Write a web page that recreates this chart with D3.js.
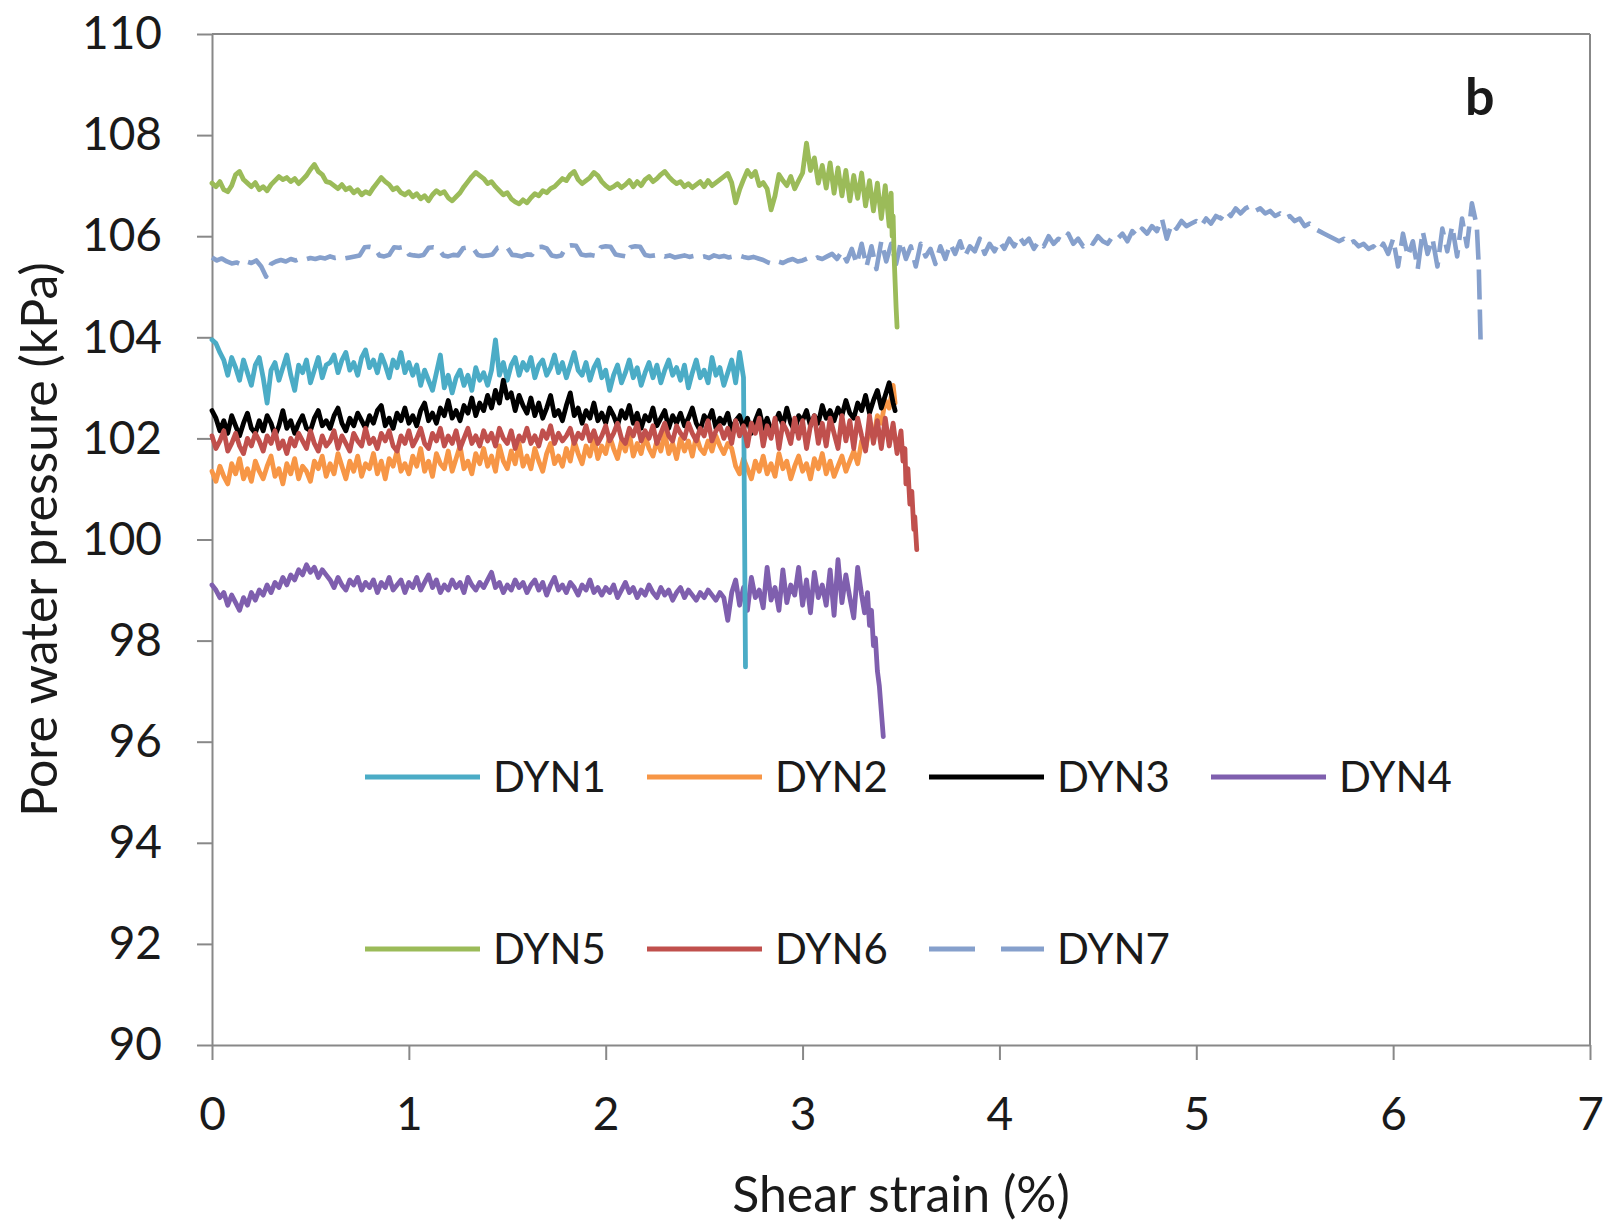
<!DOCTYPE html>
<html>
<head>
<meta charset="utf-8">
<script src="https://cdn.jsdelivr.net/npm/d3@7"></script>
<style>
  html, body { margin: 0; padding: 0; background: #ffffff; }
  svg { display: block; }
  text { font-family: Lato, "Open Sans", "DejaVu Sans", sans-serif; fill: #1a1a1a; }
</style>
</head>
<body>
<svg id="chart" width="1611" height="1223"></svg>
<script>
// Pore water pressure (kPa) against shear strain (%) for seven dynamic tests.
// Each pressure list is sampled at a fixed strain interval (seriesSteps, in %),
// starting at 0; the *End lists hold the last [strain, pressure] readings.

const seriesNames = ["DYN1", "DYN2", "DYN3", "DYN4", "DYN5", "DYN6", "DYN7"];
const seriesColors = ["#4BACC6", "#F79646", "#000000", "#7F5FAE", "#9BBB59", "#C0504D", "#86A0CC"];
const seriesSteps = [0.02, 0.02, 0.02, 0.02, 0.02, 0.02, 0.025];
const xTicks = [0, 1, 2, 3, 4, 5, 6, 7];
const yTicks = [90, 92, 94, 96, 98, 100, 102, 104, 106, 108, 110];

const dyn1Pressure = [
  103.95, 103.88, 103.70, 103.55, 103.25, 103.60, 103.40, 103.15, 103.55, 103.30,
  103.05, 103.45, 103.60, 103.20, 102.70, 103.35, 103.50, 103.15, 103.40, 103.65,
  103.25, 102.95, 103.45, 103.30, 103.55, 103.10, 103.35, 103.60, 103.20, 103.45,
  103.50, 103.65, 103.30, 103.55, 103.70, 103.35, 103.50, 103.25, 103.60, 103.75,
  103.40, 103.55, 103.30, 103.65, 103.45, 103.20, 103.55, 103.40, 103.70, 103.30,
  103.50, 103.25, 103.45, 103.05, 103.35, 103.15, 102.95, 103.30, 103.65, 103.00,
  103.25, 102.90, 103.20, 103.35, 103.05, 103.25, 102.95, 103.40, 103.15, 103.30,
  103.05, 103.35, 103.95, 103.25, 103.50, 103.15, 103.45, 103.60, 103.25, 103.50,
  103.35, 103.60, 103.20, 103.45, 103.55, 103.25, 103.40, 103.65, 103.30, 103.50,
  103.20, 103.45, 103.70, 103.35, 103.25, 103.50, 103.15, 103.40, 103.55, 103.20,
  103.35, 102.95, 103.25, 103.45, 103.10, 103.30, 103.55, 103.20, 103.40, 103.05,
  103.30, 103.50, 103.20, 103.45, 103.10, 103.35, 103.55, 103.25, 103.40, 103.15,
  103.45, 103.00, 103.30, 103.55, 103.20, 103.35, 103.10, 103.60, 103.25, 103.40,
  103.05, 103.30, 103.55, 103.10, 103.70, 103.20
];
const dyn1End = [[2.71, 97.48]];

const dyn2Pressure = [
  101.35, 101.15, 101.45, 101.25, 101.10, 101.50, 101.30, 101.60, 101.20, 101.40,
  101.15, 101.55, 101.35, 101.20, 101.45, 101.65, 101.25, 101.40, 101.10, 101.50,
  101.30, 101.60, 101.20, 101.45, 101.35, 101.15, 101.55, 101.40, 101.65, 101.25,
  101.50, 101.30, 101.70, 101.45, 101.20, 101.55, 101.35, 101.65, 101.25, 101.50,
  101.40, 101.70, 101.30, 101.55, 101.20, 101.60, 101.45, 101.75, 101.35, 101.50,
  101.30, 101.65, 101.45, 101.80, 101.35, 101.55, 101.25, 101.70, 101.50, 101.40,
  101.75, 101.35, 101.60, 101.85, 101.40, 101.55, 101.30, 101.70, 101.50, 101.80,
  101.45, 101.65, 101.35, 101.85, 101.55, 101.40, 101.75, 101.50, 101.90, 101.45,
  101.65, 101.40, 101.80, 101.55, 101.35, 101.70, 101.90, 101.50, 101.65, 101.45,
  101.80, 101.55, 101.95, 101.70, 101.50, 101.85, 101.65, 102.00, 101.60, 101.85,
  101.70, 102.05, 101.80, 101.60, 101.95, 101.75, 102.10, 101.65, 101.90, 101.70,
  102.05, 101.80, 101.65, 101.95, 101.75, 102.10, 101.70, 101.90, 101.60, 102.00,
  101.75, 101.95, 101.65, 102.05, 101.80, 101.70, 101.95, 101.75, 102.05, 101.85,
  101.70, 101.90, 101.80, 101.45, 101.30, 101.60, 101.40, 101.20, 101.55, 101.35,
  101.65, 101.30, 101.50, 101.25, 101.70, 101.40, 101.55, 101.20, 101.45, 101.65,
  101.35, 101.50, 101.20, 101.60, 101.40, 101.70, 101.30, 101.55, 101.25, 101.45,
  101.65, 101.35, 101.55, 101.75, 101.50, 101.95, 101.80, 102.20, 102.00, 102.45,
  102.30, 102.75, 102.60, 103.05
];
const dyn2End = [[3.47, 102.70]];

const dyn3Pressure = [
  102.55, 102.40, 102.15, 102.35, 102.10, 102.45, 102.25, 102.05, 102.30, 102.50,
  102.20, 102.10, 102.35, 102.15, 102.45, 102.30, 102.05, 102.25, 102.55, 102.20,
  102.35, 102.10, 102.30, 102.45, 102.20, 102.15, 102.40, 102.55, 102.25, 102.35,
  102.20, 102.45, 102.60, 102.30, 102.15, 102.40, 102.25, 102.50, 102.35, 102.20,
  102.45, 102.30, 102.55, 102.65, 102.25, 102.40, 102.20, 102.50, 102.35, 102.60,
  102.30, 102.45, 102.25, 102.55, 102.70, 102.35, 102.50, 102.30, 102.60, 102.45,
  102.75, 102.40, 102.55, 102.35, 102.65, 102.50, 102.80, 102.45, 102.70, 102.55,
  102.85, 102.60, 102.95, 102.70, 103.15, 102.80, 102.90, 102.55, 102.85, 102.65,
  102.50, 102.80, 102.45, 102.70, 102.40, 102.60, 102.85, 102.45, 102.55, 102.35,
  102.65, 102.90, 102.45, 102.60, 102.30, 102.55, 102.40, 102.70, 102.35, 102.50,
  102.30, 102.60, 102.45, 102.25, 102.55, 102.40, 102.65, 102.30, 102.50, 102.20,
  102.45, 102.35, 102.60, 102.25, 102.40, 102.55, 102.20, 102.45, 102.30, 102.50,
  102.25, 102.40, 102.60, 102.30, 102.15, 102.45, 102.35, 102.55, 102.20, 102.40,
  102.30, 102.50, 102.15, 102.35, 102.45, 102.20, 102.40, 102.10, 102.35, 102.55,
  102.20, 102.40, 102.15, 102.30, 102.50, 102.25, 102.60, 102.30, 102.15, 102.45,
  102.35, 102.55, 102.25, 102.45, 102.30, 102.65, 102.40, 102.55, 102.35, 102.60,
  102.45, 102.75, 102.50, 102.40, 102.70, 102.55, 102.85, 102.50, 102.75, 102.95,
  102.60, 102.85, 103.10, 102.70
];
const dyn3End = [[3.47, 102.55]];

const dyn4Pressure = [
  99.10, 99.00, 98.85, 98.95, 98.70, 98.90, 98.75, 98.60, 98.85, 98.70,
  98.95, 98.80, 99.00, 98.90, 99.10, 98.95, 99.15, 99.05, 99.25, 99.10,
  99.30, 99.20, 99.40, 99.30, 99.50, 99.35, 99.45, 99.25, 99.40, 99.30,
  99.20, 99.05, 99.25, 99.10, 99.00, 99.20, 99.10, 99.25, 99.00, 99.15,
  99.05, 99.20, 98.95, 99.15, 99.05, 99.25, 99.00, 99.10, 99.20, 98.95,
  99.15, 99.05, 99.25, 99.00, 99.15, 99.30, 99.05, 99.20, 98.95, 99.10,
  99.00, 99.20, 99.05, 99.15, 98.95, 99.25, 99.10, 99.00, 99.15, 99.05,
  99.20, 99.35, 99.05, 99.15, 98.95, 99.10, 99.00, 99.20, 99.05, 99.15,
  98.95, 99.10, 99.20, 99.00, 99.15, 98.90, 99.10, 99.25, 99.00, 99.10,
  98.95, 99.15, 99.05, 98.90, 99.10, 99.00, 99.20, 98.95, 99.05, 98.90,
  99.05, 98.95, 99.10, 98.85, 99.00, 99.15, 98.95, 99.05, 98.85, 99.00,
  98.90, 99.10, 98.95, 98.85, 99.05, 98.90, 99.00, 98.80, 98.95, 99.05,
  98.85, 99.00, 98.90, 98.80, 98.95, 98.85, 99.00, 98.90, 98.80, 98.95,
  98.85, 98.40, 98.95, 99.20, 98.70, 99.05, 98.60, 99.25, 98.85, 99.00,
  98.65, 99.45, 98.80, 99.05, 98.60, 99.40, 98.75, 99.10, 98.90, 99.45,
  98.70, 99.20, 98.55, 99.35, 98.85, 99.10, 98.70, 99.40, 98.50, 99.60,
  98.75, 99.30, 98.85, 98.45, 99.45, 98.90
];
const dyn4End = [
  [3.315, 98.55], [3.33, 98.95], [3.34, 98.30], [3.35, 98.60], [3.36, 97.90],
  [3.37, 98.05], [3.38, 97.40], [3.39, 97.10], [3.40, 96.60], [3.41, 96.10]
];

const dyn5Pressure = [
  107.05, 106.98, 107.08, 106.92, 106.88, 107.00, 107.22, 107.28, 107.12, 107.05,
  106.98, 107.06, 106.92, 106.98, 106.90, 107.02, 107.10, 107.18, 107.12, 107.16,
  107.08, 107.14, 107.04, 107.12, 107.20, 107.32, 107.42, 107.28, 107.22, 107.08,
  107.06, 107.00, 106.94, 107.02, 106.92, 106.96, 106.86, 106.92, 106.82, 106.88,
  106.84, 106.96, 107.06, 107.16, 107.08, 107.02, 106.92, 106.96, 106.86, 106.82,
  106.88, 106.78, 106.84, 106.74, 106.80, 106.70, 106.82, 106.90, 106.84, 106.88,
  106.76, 106.70, 106.78, 106.86, 106.98, 107.08, 107.18, 107.26, 107.20, 107.14,
  107.04, 107.08, 106.98, 106.90, 106.82, 106.86, 106.74, 106.68, 106.64, 106.72,
  106.66, 106.76, 106.84, 106.80, 106.90, 106.86, 106.94, 106.98, 107.06, 107.14,
  107.10, 107.22, 107.28, 107.12, 107.04, 107.10, 107.16, 107.26, 107.20, 107.08,
  107.00, 106.94, 106.98, 107.04, 106.96, 107.02, 107.10, 106.98, 107.08, 107.00,
  107.12, 107.18, 107.08, 107.14, 107.22, 107.28, 107.18, 107.10, 107.04, 107.08,
  106.98, 107.04, 106.96, 107.02, 107.08, 106.98, 107.10, 107.00, 107.06, 107.12,
  107.18, 107.24, 107.06, 106.66, 106.92, 107.12, 107.30, 107.18, 107.28, 107.00,
  107.06, 106.94, 106.52, 106.80, 107.22, 107.10, 107.00, 107.18, 106.94, 107.10,
  107.25, 107.84, 107.30, 107.55, 107.05, 107.40, 106.95, 107.45, 106.85, 107.35,
  106.80, 107.30, 106.70, 107.20, 106.75, 107.25, 106.60, 107.10, 106.50, 107.05,
  106.35, 107.00, 106.20
];
const dyn5End = [
  [3.45, 106.85], [3.455, 106.00], [3.46, 106.40], [3.465, 105.60],
  [3.47, 105.10], [3.475, 104.60], [3.48, 104.20]
];

const dyn6Pressure = [
  102.05, 101.80, 101.95, 102.15, 101.75, 101.90, 102.10, 101.85, 101.70, 102.00,
  101.85, 102.10, 101.95, 101.75, 102.05, 101.90, 102.15, 101.80, 101.95, 101.70,
  102.00, 101.85, 102.10, 101.95, 101.80, 102.15, 101.90, 101.75, 102.05, 101.85,
  101.95, 102.15, 101.80, 102.05, 101.90, 101.75, 102.10, 101.95, 101.85, 102.20,
  101.90, 102.00, 101.80, 102.10, 101.95, 102.15, 101.85, 101.75, 102.05, 101.90,
  102.15, 101.85, 102.00, 102.20, 101.90, 101.80, 102.10, 101.95, 102.20, 101.85,
  102.05, 101.90, 102.15, 101.80, 102.00, 102.20, 101.90, 102.05, 101.85, 102.15,
  101.95, 102.10, 101.85, 102.20, 102.00, 101.90, 102.15, 101.80, 102.05, 101.95,
  102.20, 101.90, 102.05, 101.85, 102.15, 102.00, 102.25, 101.90, 102.10, 101.95,
  102.05, 102.20, 101.90, 102.10, 102.00, 102.25, 101.95, 102.15, 101.90, 102.05,
  102.25, 101.95, 102.10, 102.30, 102.00, 101.90, 102.20, 102.05, 102.30, 101.95,
  102.15, 102.00, 102.25, 101.90, 102.10, 102.30, 102.05, 101.95, 102.25, 102.10,
  102.00, 102.30, 102.10, 101.95, 102.20, 102.05, 102.35, 101.95, 102.15, 102.25,
  102.00, 102.20, 101.90, 102.35, 102.05, 102.25, 101.85, 102.30, 102.10, 102.40,
  101.85, 102.25, 102.00, 102.40, 101.80, 102.30, 102.15, 101.90, 102.40, 102.00,
  102.35, 101.80, 102.25, 102.45, 101.90, 102.30, 101.85, 102.40, 102.10, 101.80,
  102.45, 101.95, 102.35, 101.80, 102.40, 102.05, 101.75, 102.45, 101.90, 102.35,
  101.80, 102.40, 101.85, 102.30, 101.70, 102.15
];
const dyn6End = [
  [3.51, 101.55], [3.52, 101.80], [3.525, 101.10], [3.535, 101.40], [3.545, 100.70],
  [3.555, 100.95], [3.565, 100.20], [3.57, 100.45], [3.58, 99.80]
];

const dyn7Pressure = [
  105.58, 105.52, 105.56, 105.50, 105.46, 105.48, 105.44, 105.50, 105.47, 105.52,
  105.40, 105.20, 105.45, 105.50, 105.53, 105.50, 105.55, 105.52, 105.56, 105.54,
  105.57, 105.55, 105.58, 105.56, 105.60, 105.57, 105.59, 105.56, 105.58, 105.60,
  105.62, 105.78, 105.79, 105.77, 105.62, 105.60, 105.63, 105.78, 105.77, 105.79,
  105.64, 105.62, 105.61, 105.63, 105.77, 105.78, 105.76, 105.62, 105.60, 105.63,
  105.62, 105.76, 105.78, 105.77, 105.63, 105.61, 105.62, 105.64, 105.77, 105.79,
  105.78, 105.63, 105.62, 105.60, 105.64, 105.63, 105.78, 105.79, 105.76, 105.62,
  105.60, 105.62, 105.80, 105.82, 105.81, 105.64, 105.62, 105.63, 105.61, 105.78,
  105.80, 105.79, 105.64, 105.62, 105.60, 105.78, 105.80, 105.79, 105.63, 105.61,
  105.62, 105.64, 105.60, 105.62, 105.58, 105.60, 105.62, 105.59, 105.61, 105.58,
  105.60, 105.57, 105.62, 105.59, 105.61, 105.58, 105.60, 105.62, 105.59, 105.57,
  105.59, 105.56, 105.53, 105.48, 105.45, 105.50, 105.47, 105.52, 105.55, 105.50,
  105.52, 105.56, 105.53, 105.58, 105.55, 105.60, 105.65, 105.55, 105.70, 105.50,
  105.75, 105.45, 105.85, 105.40, 105.80, 105.35, 105.90, 105.50, 105.85, 105.45,
  105.90, 105.55, 105.80, 105.40, 105.85, 105.60, 105.75, 105.45, 105.80, 105.55,
  105.85, 105.65, 105.90, 105.60, 105.80, 105.70, 105.95, 105.65, 105.85, 105.70,
  105.90, 105.75, 105.95, 105.80, 106.00, 105.85, 105.95, 105.75, 105.90, 105.80,
  106.00, 105.85, 105.95, 105.90, 106.05, 105.85, 105.95, 105.80, 105.90, 105.85,
  106.00, 105.90, 105.85, 106.00, 105.95, 106.05, 105.90, 106.10, 106.00, 106.15,
  106.05, 106.20, 106.10, 106.35, 105.95, 106.25, 106.15, 106.30, 106.20, 106.25,
  106.30, 106.20, 106.35, 106.25, 106.40, 106.35, 106.50, 106.40, 106.55, 106.45,
  106.55, 106.60, 106.50, 106.55, 106.45, 106.50, 106.40, 106.45, 106.35, 106.40,
  106.30, 106.35, 106.20, 106.25, 106.15, 106.10, 106.05, 106.00, 105.95, 105.90,
  105.95, 105.85, 105.90, 105.80, 105.85, 105.75, 105.80, 105.70, 105.85, 105.65,
  105.95, 105.40, 106.05, 105.60, 105.90, 105.35, 106.10, 105.65, 105.95, 105.40,
  106.15, 105.70, 106.20, 105.60, 106.35, 105.80, 106.65, 106.20
];
const dyn7End = [[6.435, 105.40], [6.44, 104.60], [6.445, 103.80]];

const pressureLists = [dyn1Pressure, dyn2Pressure, dyn3Pressure, dyn4Pressure, dyn5Pressure, dyn6Pressure, dyn7Pressure];
const endLists = [dyn1End, dyn2End, dyn3End, dyn4End, dyn5End, dyn6End, dyn7End];

const series = seriesNames.map((name, k) => ({
  name,
  color: seriesColors[k],
  dashed: name === "DYN7",
  points: pressureLists[k].map((p, i) => [i * seriesSteps[k], p]).concat(endLists[k])
}));

// Stacking order of the traces (bottom first)
const drawOrder = ["DYN4", "DYN2", "DYN1", "DYN3", "DYN6", "DYN7", "DYN5"];

const svg = d3.select("#chart");
const plot = { left: 212, right: 1590, top: 34, bottom: 1045 };
const axisGrey = "#888888";

const x = d3.scaleLinear().domain([0, 7]).range([plot.left, plot.right]);
const y = d3.scaleLinear().domain([90, 110]).range([plot.bottom, plot.top]);

// Plot-area frame (top and right edges)
svg.append("line")
  .attr("x1", x(0)).attr("x2", x(7)).attr("y1", y(110)).attr("y2", y(110))
  .attr("stroke", axisGrey).attr("stroke-width", 2);
svg.append("line")
  .attr("x1", x(7)).attr("x2", x(7)).attr("y1", y(110)).attr("y2", y(90))
  .attr("stroke", axisGrey).attr("stroke-width", 2);

// Axes
const yAxis = svg.append("g")
  .attr("transform", `translate(${plot.left},0)`)
  .call(d3.axisLeft(y).tickValues(yTicks).tickFormat(d3.format("d"))
    .tickSize(15).tickSizeOuter(0).tickPadding(35));
const xAxis = svg.append("g")
  .attr("transform", `translate(0,${plot.bottom})`)
  .call(d3.axisBottom(x).tickValues(xTicks).tickFormat(d3.format("d"))
    .tickSize(15).tickSizeOuter(0).tickPadding(37));

[yAxis, xAxis].forEach(g => {
  g.select(".domain").attr("stroke", axisGrey).attr("stroke-width", 2);
  g.selectAll(".tick line").attr("stroke", axisGrey).attr("stroke-width", 2);
  g.selectAll(".tick text")
    .attr("fill", "#1a1a1a")
    .style("font-family", "Lato, 'Open Sans', sans-serif")
    .style("font-size", "46px");
});

// Traces
const line = d3.line().x(d => x(d[0])).y(d => y(d[1]));
const traces = svg.append("g");
drawOrder.forEach(name => {
  const s = series.find(d => d.name === name);
  traces.append("path")
    .datum(s.points)
    .attr("d", line)
    .attr("fill", "none")
    .attr("stroke", s.color)
    .attr("stroke-width", s.dashed ? 4.6 : 4.8)
    .attr("stroke-linejoin", "round")
    .attr("stroke-linecap", s.dashed ? "butt" : "round")
    .attr("stroke-dasharray", s.dashed ? "30,10" : null);
});

// Panel letter
svg.append("text")
  .attr("x", 1465).attr("y", 115)
  .style("font-size", "52px").style("font-weight", "bold")
  .text("b");

// Axis titles
svg.append("text")
  .attr("x", (plot.left + plot.right) / 2).attr("y", 1212)
  .attr("text-anchor", "middle")
  .style("font-size", "50px")
  .text("Shear strain (%)");
svg.append("text")
  .attr("transform", `translate(57,${(plot.top + plot.bottom) / 2}) rotate(-90)`)
  .attr("text-anchor", "middle")
  .style("font-size", "50px")
  .text("Pore water pressure (kPa)");

// Legend: two rows, four columns
const legendCols = 4, legendColW = 282, legendX0 = 365;
const legendRows = [777, 949];
const legend = svg.append("g");
series.forEach((s, k) => {
  const cx = legendX0 + (k % legendCols) * legendColW;
  const cy = legendRows[Math.floor(k / legendCols)];
  legend.append("line")
    .attr("x1", cx).attr("x2", cx + 115).attr("y1", cy).attr("y2", cy)
    .attr("stroke", s.color).attr("stroke-width", 5)
    .attr("stroke-dasharray", s.dashed ? "46,26" : null);
  legend.append("text")
    .attr("x", cx + 128).attr("y", cy)
    .attr("dy", "0.36em")
    .style("font-size", "42px")
    .text(s.name);
});
</script>
</body>
</html>
